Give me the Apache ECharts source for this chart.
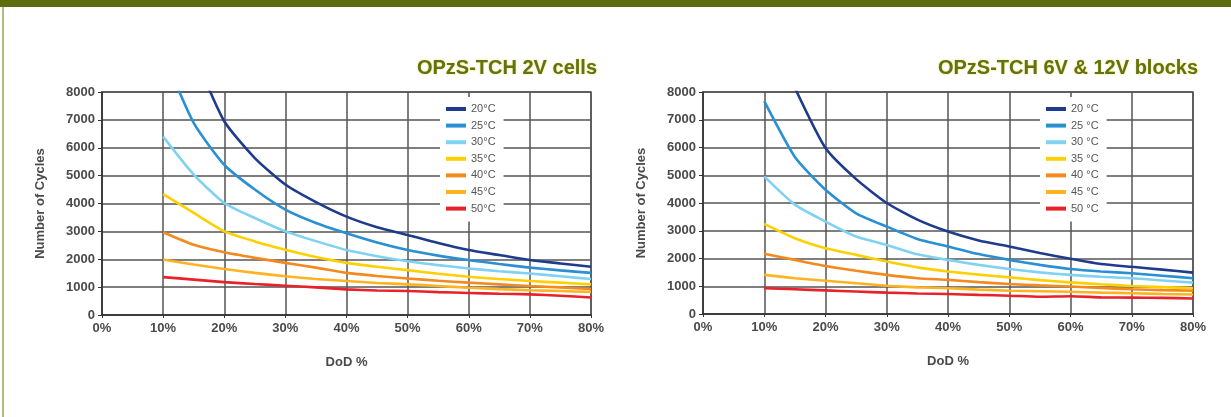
<!DOCTYPE html>
<html>
<head>
<meta charset="utf-8">
<style>
html, body {
    margin: 0;
    padding: 0;
    background: #fff;
}
#chart {
    width: 1231px;
    height: 417px;
}
</style>
<script src="https://cdn.jsdelivr.net/npm/echarts@6/dist/echarts.min.js"></script>
</head>
<body>
<div id="chart"></div>
<script>
// depth of discharge (%) used for every curve
const dod = [10, 15, 20, 25, 30, 35, 40, 45, 50, 55, 60, 65, 70, 75, 80];

const cellNames = ['20°C', '25°C', '30°C', '35°C', '40°C', '45°C', '50°C'];
const blockNames = ['20 °C', '25 °C', '30 °C', '35 °C', '40 °C', '45 °C', '50 °C'];
const curveColors = ['#1f3c8c', '#2a90d2', '#7fd2f2', '#ffd000', '#f38a1e', '#ffb321', '#e8222a'];

// OPzS-TCH 2V cells
const cells20 = [null, 9400, 6950, 5630, 4680, 4050, 3530, 3150, 2870, 2580, 2330, 2150, 1970, 1850, 1730];
const cells25 = [9400, 6890, 5390, 4500, 3780, 3300, 2930, 2600, 2330, 2130, 1970, 1830, 1700, 1600, 1510];
const cells30 = [6400, 5040, 4020, 3480, 3000, 2650, 2330, 2110, 1930, 1790, 1670, 1570, 1490, 1390, 1290];
const cells35 = [4340, 3660, 3000, 2640, 2340, 2080, 1870, 1730, 1610, 1480, 1370, 1290, 1220, 1160, 1100];
const cells40 = [2970, 2520, 2250, 2050, 1870, 1700, 1510, 1400, 1310, 1230, 1160, 1100, 1040, 990, 930];
const cells45 = [1990, 1810, 1650, 1510, 1390, 1290, 1220, 1150, 1100, 1040, 980, 930, 890, 860, 830];
const cells50 = [1360, 1270, 1180, 1110, 1050, 990, 920, 880, 860, 820, 790, 760, 740, 690, 630];

// OPzS-TCH 6V & 12V blocks
const blocks20 = [null, 8150, 5980, 4860, 4000, 3400, 2970, 2650, 2430, 2200, 1990, 1800, 1700, 1600, 1490];
const blocks25 = [7670, 5660, 4480, 3630, 3150, 2700, 2430, 2160, 1950, 1770, 1620, 1530, 1470, 1380, 1290];
const blocks30 = [4960, 3940, 3330, 2790, 2490, 2150, 1950, 1770, 1620, 1500, 1410, 1340, 1290, 1210, 1130];
const blocks35 = [3250, 2730, 2370, 2130, 1890, 1680, 1530, 1420, 1320, 1220, 1140, 1070, 1010, 970, 930];
const blocks40 = [2170, 1950, 1730, 1560, 1410, 1290, 1230, 1150, 1080, 1030, 990, 940, 890, 860, 840];
const blocks45 = [1410, 1290, 1200, 1110, 1020, 960, 930, 880, 840, 820, 800, 770, 750, 720, 700];
const blocks50 = [930, 890, 850, 810, 770, 740, 720, 690, 660, 620, 640, 600, 590, 580, 560];

const cellSets = [cells20, cells25, cells30, cells35, cells40, cells45, cells50];
const blockSets = [blocks20, blocks25, blocks30, blocks35, blocks40, blocks45, blocks50];

const font = '"Liberation Sans", Arial, sans-serif';
const gridColor = '#555';

function makeX(index) {
    return {
        gridIndex: index,
        type: 'value',
        min: 0,
        max: 80,
        interval: 10,
        name: 'DoD %',
        nameLocation: 'middle',
        nameGap: 41,
        nameTextStyle: {color: '#4a4a4a', fontSize: 13, fontWeight: 'bold', fontFamily: font},
        axisLine: {lineStyle: {color: '#333', width: 1.5}},
        axisTick: {show: true, length: 3, lineStyle: {color: '#333'}},
        axisLabel: {
            formatter: '{value}%',
            margin: 7,
            color: '#4a4a4a',
            fontSize: 13,
            fontWeight: 'bold',
            fontFamily: font
        },
        splitLine: {show: true, lineStyle: {color: gridColor, width: 1.5}}
    };
}

function makeY(index) {
    return {
        gridIndex: index,
        type: 'value',
        min: 0,
        max: 8000,
        interval: 1000,
        name: 'Number of Cycles',
        nameLocation: 'middle',
        nameGap: 55,
        nameTextStyle: {color: '#4a4a4a', fontSize: 13, fontWeight: 'bold', fontFamily: font},
        axisLine: {show: true, lineStyle: {color: '#333', width: 1.5}},
        axisTick: {show: true, length: 4, lineStyle: {color: '#333'}},
        axisLabel: {
            formatter: value => String(value),
            margin: 7,
            color: '#4a4a4a',
            fontSize: 13,
            fontWeight: 'bold',
            fontFamily: font
        },
        splitLine: {show: true, lineStyle: {color: gridColor, width: 1.5}}
    };
}

function makeLegend(names, left) {
    return {
        data: names,
        orient: 'vertical',
        left: left,
        top: 97,
        itemWidth: 20,
        itemHeight: 4,
        itemGap: 2.6,
        icon: 'rect',
        backgroundColor: '#fff',
        padding: [5, 8, 6, 6],
        textStyle: {color: '#555', fontSize: 11, lineHeight: 14, fontFamily: font}
    };
}

function makeSeries(names, sets, index) {
    return names.map((name, i) => ({
        name: name,
        type: 'line',
        xAxisIndex: index,
        yAxisIndex: index,
        showSymbol: false,
        smooth: 0.2,
        clip: true,
        color: curveColors[i],
        lineStyle: {width: 2.6, color: curveColors[i]},
        data: dod.map((d, k) => [d, sets[i][k]])
    }));
}

const titleStyle = {
    color: '#627212',
    fontSize: 20,
    fontWeight: 'bold',
    fontFamily: font,
    textShadowColor: '#e8d84a',
    textShadowBlur: 2
};

const chart = echarts.init(document.getElementById('chart'));
chart.setOption({
    backgroundColor: '#fff',
    animation: false,
    title: [
        {text: 'OPzS-TCH 2V cells', right: 634, top: 58, padding: 0, textStyle: titleStyle},
        {text: 'OPzS-TCH 6V & 12V blocks', right: 33, top: 58, padding: 0, textStyle: titleStyle}
    ],
    graphic: [
        {type: 'rect', left: 0, top: 0, shape: {width: 1231, height: 7}, style: {fill: '#5c6c0f'}},
        {type: 'rect', left: 2, top: 7, shape: {width: 2, height: 410}, style: {fill: '#b4bc7c'}}
    ],
    grid: [
        {left: 102, right: 640, top: 92, bottom: 102, show: true, borderColor: gridColor, borderWidth: 1.5},
        {left: 703, right: 38, top: 92, bottom: 103, show: true, borderColor: gridColor, borderWidth: 1.5}
    ],
    legend: [makeLegend(cellNames, 440), makeLegend(blockNames, 1040)],
    xAxis: [makeX(0), makeX(1)],
    yAxis: [makeY(0), makeY(1)],
    series: makeSeries(cellNames, cellSets, 0).concat(makeSeries(blockNames, blockSets, 1))
});
</script>
</body>
</html>
